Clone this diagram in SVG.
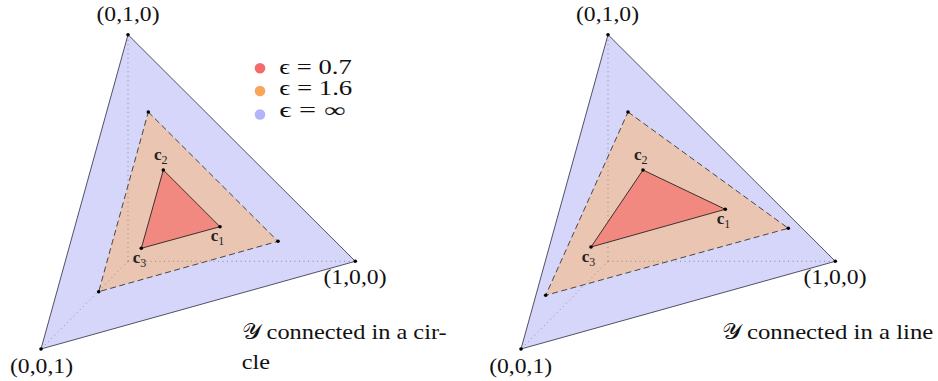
<svg xmlns="http://www.w3.org/2000/svg" width="938" height="381" viewBox="0 0 938 381">
<style>
.outer{fill:#d6d6fa;stroke:#2a2a40;stroke-width:0.8;stroke-linejoin:round}
.mid{fill:#eac6b2;stroke:#222;stroke-width:0.8;stroke-dasharray:6 3.5}
.inner{fill:#f28980;stroke:#111;stroke-width:0.8;stroke-linejoin:round}
.axis{fill:none;stroke:#777;stroke-width:0.8;stroke-dasharray:1 3.5}
.dot{fill:#000}
.lab{font-family:"Liberation Serif","Times New Roman",serif;font-size:22px;fill:#111}
.vl{font-family:"Liberation Serif","Times New Roman",serif;font-size:22px;fill:#111;text-anchor:middle}
.cl{font-family:"Liberation Serif","DejaVu Serif",serif;font-size:17px;font-weight:bold;fill:#222}
.sub{font-size:12px;font-weight:normal}
.leg{font-family:"Liberation Serif","DejaVu Serif",serif;font-size:20px;fill:#111}
</style>
<g id="left-panel">
  <g id="left-outer"><polygon class="outer" points="128,34.7 355.3,261.3 41,349"/></g>
  <g id="left-mid"><polygon class="mid" points="148.3,112 278,241.3 98.7,291.7"/></g>
  <g id="left-axes">
    <line class="axis" x1="128" y1="261.3" x2="128" y2="34.7"/>
    <line class="axis" x1="128" y1="261.3" x2="355.3" y2="261.3"/>
    <line class="axis" x1="128" y1="261.3" x2="41" y2="349"/>
  </g>
  <g id="left-inner"><polygon class="inner" points="163.3,170 220,226.7 141.3,248.3"/></g>
  <g id="left-dots">
    <circle class="dot" cx="128" cy="34.7" r="1.8"/>
    <circle class="dot" cx="355.3" cy="261.3" r="1.8"/>
    <circle class="dot" cx="41" cy="349" r="1.8"/>
    <circle class="dot" cx="148.3" cy="112" r="1.8"/>
    <circle class="dot" cx="278" cy="241.3" r="1.8"/>
    <circle class="dot" cx="98.7" cy="291.7" r="1.8"/>
    <circle class="dot" cx="163.3" cy="170" r="1.8"/>
    <circle class="dot" cx="220" cy="226.7" r="1.8"/>
    <circle class="dot" cx="141.3" cy="248.3" r="1.8"/>
  </g>
  <g id="left-c2"><text class="cl" x="154" y="160">c<tspan class="sub" dy="3.5">2</tspan></text></g>
  <g id="left-c1"><text class="cl" x="210.7" y="241">c<tspan class="sub" dy="3.5">1</tspan></text></g>
  <g id="left-c3"><text class="cl" x="132.7" y="263">c<tspan class="sub" dy="3.5">3</tspan></text></g>
  <g id="left-v010"><text class="vl" x="128" y="21" textLength="63" lengthAdjust="spacingAndGlyphs">(0,1,0)</text></g>
  <g id="left-v100"><text class="vl" x="355" y="284" textLength="63" lengthAdjust="spacingAndGlyphs">(1,0,0)</text></g>
  <g id="left-v001"><text class="vl" x="41.5" y="373" textLength="63" lengthAdjust="spacingAndGlyphs">(0,0,1)</text></g>
  <g id="legend">
    <circle cx="260" cy="68.3" r="5.3" fill="#f56b6b"/>
    <circle cx="260" cy="91" r="5.3" fill="#fba55a"/>
    <circle cx="260" cy="114.5" r="5.3" fill="#b4b4fb"/>
    <text class="leg" x="279.3" y="73.5" textLength="72.4" lengthAdjust="spacingAndGlyphs">ϵ = 0.7</text>
    <text class="leg" x="279.3" y="95" textLength="73" lengthAdjust="spacingAndGlyphs">ϵ = 1.6</text>
    <text class="leg" x="279.3" y="116.5" textLength="66" lengthAdjust="spacingAndGlyphs">ϵ = ∞</text>
  </g>
  <g id="left-caption">
    <text class="lab" x="241.7" y="339" textLength="205" lengthAdjust="spacingAndGlyphs">𝒴 connected in a cir-</text>
    <text class="lab" x="241.7" y="369" textLength="28.3" lengthAdjust="spacingAndGlyphs">cle</text>
  </g>
</g>
<g id="right-panel">
  <g id="right-outer"><polygon class="outer" points="608,34.7 835.3,261.3 521,349"/></g>
  <g id="right-mid"><polygon class="mid" points="628,112 788.3,228.3 545.7,295.3"/></g>
  <g id="right-axes">
    <line class="axis" x1="608" y1="261.3" x2="608" y2="34.7"/>
    <line class="axis" x1="608" y1="261.3" x2="835.3" y2="261.3"/>
    <line class="axis" x1="608" y1="261.3" x2="521" y2="349"/>
  </g>
  <g id="right-inner"><polygon class="inner" points="643,170 725.3,209.3 591,247"/></g>
  <g id="right-dots">
    <circle class="dot" cx="608" cy="34.7" r="1.8"/>
    <circle class="dot" cx="835.3" cy="261.3" r="1.8"/>
    <circle class="dot" cx="521" cy="349" r="1.8"/>
    <circle class="dot" cx="628" cy="112" r="1.8"/>
    <circle class="dot" cx="788.3" cy="228.3" r="1.8"/>
    <circle class="dot" cx="545.7" cy="295.3" r="1.8"/>
    <circle class="dot" cx="643" cy="170" r="1.8"/>
    <circle class="dot" cx="725.3" cy="209.3" r="1.8"/>
    <circle class="dot" cx="591" cy="247" r="1.8"/>
  </g>
  <g id="right-c2"><text class="cl" x="634" y="160">c<tspan class="sub" dy="3.5">2</tspan></text></g>
  <g id="right-c1"><text class="cl" x="716.7" y="224">c<tspan class="sub" dy="3.5">1</tspan></text></g>
  <g id="right-c3"><text class="cl" x="581.7" y="262">c<tspan class="sub" dy="3.5">3</tspan></text></g>
  <g id="right-v010"><text class="vl" x="607.5" y="21" textLength="63" lengthAdjust="spacingAndGlyphs">(0,1,0)</text></g>
  <g id="right-v100"><text class="vl" x="835" y="284" textLength="63" lengthAdjust="spacingAndGlyphs">(1,0,0)</text></g>
  <g id="right-v001"><text class="vl" x="520.7" y="373" textLength="63" lengthAdjust="spacingAndGlyphs">(0,0,1)</text></g>
  <g id="right-caption">
    <text class="lab" x="721.7" y="339" textLength="211.6" lengthAdjust="spacingAndGlyphs">𝒴 connected in a line</text>
  </g>
</g>
</svg>
